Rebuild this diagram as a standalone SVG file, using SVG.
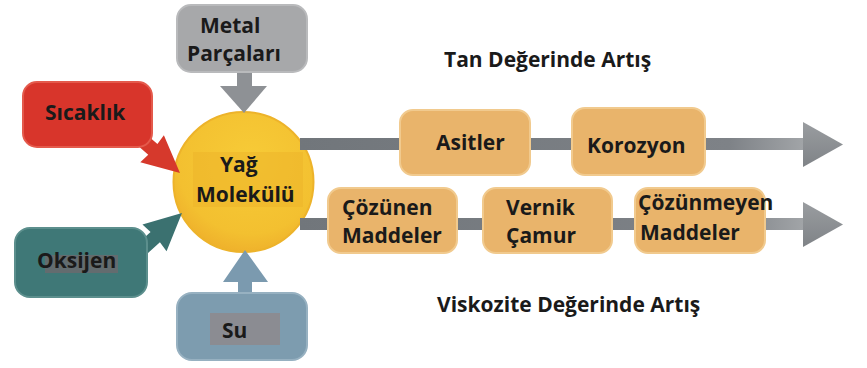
<svg xmlns="http://www.w3.org/2000/svg" width="867" height="368" viewBox="0 0 867 368">
  <defs>
    <linearGradient id="barGrad" x1="0" y1="0" x2="1" y2="0">
      <stop offset="0" stop-color="#71767B"/>
      <stop offset="0.85" stop-color="#7E8287"/>
      <stop offset="1" stop-color="#A2A5A8"/>
    </linearGradient>
    <linearGradient id="headGrad" x1="0" y1="0" x2="0" y2="1">
      <stop offset="0" stop-color="#9A9DA0"/>
      <stop offset="1" stop-color="#7F8387"/>
    </linearGradient>
    <radialGradient id="circGrad" cx="0.55" cy="0.35" r="0.65">
      <stop offset="0" stop-color="#F7CB37"/>
      <stop offset="0.8" stop-color="#F3C030"/>
      <stop offset="1" stop-color="#EFB22C"/>
    </radialGradient>
  </defs>
  <style>
    text { font-family: "Open Sans", "Liberation Sans", sans-serif; font-weight: bold; font-size: 21px; fill: #1A1A1A; }
    .orange { fill: #E9B46B; stroke: #F1CA8E; stroke-width: 2; }
    .bar { fill: url(#barGrad); }
    .head { fill: url(#headGrad); }
  </style>
  <rect width="867" height="368" fill="#FFFFFF"/>

  <g id="node-yag">
    <circle cx="243.5" cy="182" r="70" fill="url(#circGrad)" stroke="#EDB32A" stroke-width="2"/>
    <rect x="193" y="152" width="110" height="55" fill="#ECB42A" opacity="0.55"/>
    <text x="220" y="171.5">Yağ</text>
    <text x="196" y="201.5">Molekülü</text>
  </g>

  <g id="connectors">
    <rect class="bar" x="300" y="138" width="505" height="12"/>
    <polygon class="head" points="803,122 843,144.5 803,167"/>
    <rect class="bar" x="300" y="218" width="505" height="12"/>
    <polygon class="head" points="803,202 843,224.5 803,247"/>
    <g fill="#8E9195">
      <rect x="237" y="68" width="15" height="19"/>
      <polygon points="220,86 267,86 244,113"/>
    </g>
    <g fill="#7B9AAF">
      <rect x="238" y="280" width="14" height="16"/>
      <polygon points="223,282 268,282 245,250"/>
    </g>
    <g fill="#D6392C" transform="translate(180,173) rotate(41)">
      <polygon points="-70,-7 -36,-7 -37,-18 0,0 -37,18 -36,7 -70,7"/>
    </g>
    <g fill="#3B7170" transform="translate(182,213) rotate(-42)">
      <polygon points="-70,-7 -36,-7 -37,-18 0,0 -37,18 -36,7 -70,7"/>
    </g>
  </g>

  <g id="node-metal">
    <rect x="177" y="5" width="130" height="67" rx="14" fill="#A7A8AA" stroke="#B9BABC" stroke-width="2"/>
    <text x="200" y="33">Metal</text>
    <text x="187" y="61">Parçaları</text>
  </g>
  <g id="node-sicaklik">
    <rect x="23" y="82" width="129" height="65" rx="14" fill="#D8352B" stroke="#E45A4C" stroke-width="2"/>
    <text x="45" y="120">Sıcaklık</text>
  </g>
  <g id="node-oksijen">
    <rect x="15" y="228" width="132" height="69" rx="15" fill="#3F7877" stroke="#5C8F8D" stroke-width="2"/>
    <rect x="45" y="255" width="73" height="18" fill="#6A6A6D" opacity="0.85"/>
    <text x="37" y="268">Oksijen</text>
  </g>
  <g id="node-su">
    <rect x="177" y="293" width="130" height="67" rx="15" fill="#7D9CAF" stroke="#97B1C1" stroke-width="2"/>
    <rect x="210" y="313" width="70" height="32" fill="#8D8B8F" opacity="0.9"/>
    <text x="222" y="338">Su</text>
  </g>

  <g id="node-asitler">
    <rect class="orange" x="400" y="110" width="130" height="65" rx="13"/>
    <text x="436" y="150">Asitler</text>
  </g>
  <g id="node-korozyon">
    <rect class="orange" x="572" y="108" width="133" height="67" rx="13"/>
    <text x="587" y="153">Korozyon</text>
  </g>
  <g id="node-cozunen">
    <rect class="orange" x="328" y="188" width="129" height="65" rx="13"/>
    <text x="342" y="215">Çözünen</text>
    <text x="342" y="242.5">Maddeler</text>
  </g>
  <g id="node-vernik">
    <rect class="orange" x="483" y="188" width="129" height="65" rx="13"/>
    <text x="506" y="215">Vernik</text>
    <text x="506" y="243">Çamur</text>
  </g>
  <g id="node-cozunmeyen">
    <rect class="orange" x="635" y="188" width="130" height="65" rx="13"/>
    <text x="638" y="210">Çözünmeyen</text>
    <text x="640" y="240">Maddeler</text>
  </g>

  <g id="label-tan">
    <text x="444" y="66.5">Tan Değerinde Artış</text>
  </g>
  <g id="label-viskozite">
    <text x="437" y="311.5">Viskozite Değerinde Artış</text>
  </g>
</svg>
